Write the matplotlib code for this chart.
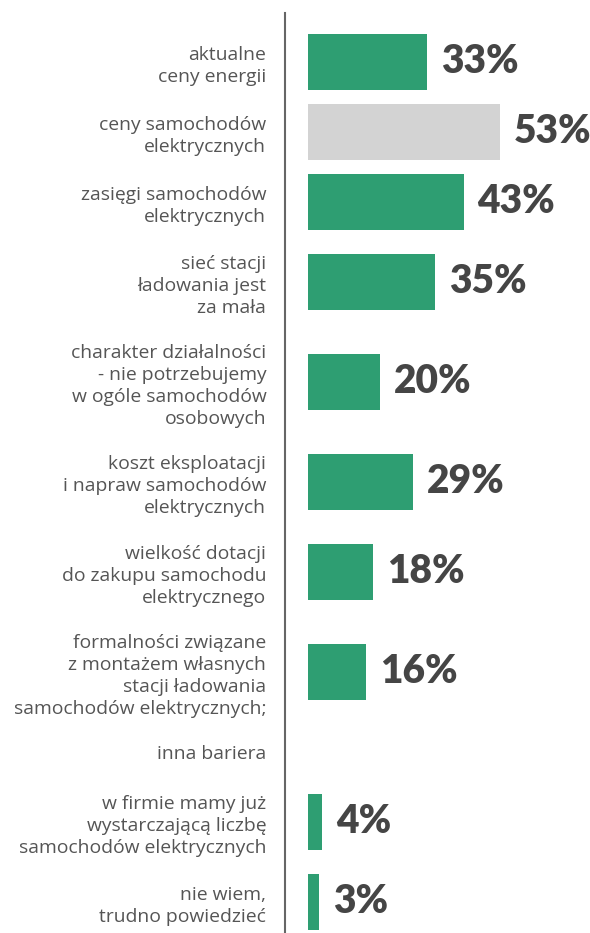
#!/usr/bin/env python3
"""
Barriers to buying electric cars - horizontal bar chart.
"""

import matplotlib.pyplot as plt

labels = [
    "aktualne\nceny energii",
    "ceny samochodów\nelektrycznych",
    "zasięgi samochodów\nelektrycznych",
    "sieć stacji\nładowania jest\nza mała",
    "charakter działalności\n- nie potrzebujemy\nw ogóle samochodów\nosobowych",
    "koszt eksploatacji\ni napraw samochodów\nelektrycznych",
    "wielkość dotacji\ndo zakupu samochodu\nelektrycznego",
    "formalności związane\nz montażem własnych\nstacji ładowania\nsamochodów elektrycznych;",
    "inna bariera",
    "w firmie mamy już\nwystarczającą liczbę\nsamochodów elektrycznych",
    "nie wiem,\ntrudno powiedzieć",
]
values = [33, 53, 43, 35, 20, 29, 18, 16, None, 4, 3]
highlight = [False, True, False, False, False, False, False, False, False, False, False]

GREEN = "#2e9e72"
GREY = "#d3d3d3"
TEXT = "#555555"
VALUE = "#454545"

W, H, DPI = 590, 933, 100


def row_centers(lbls, first=62.0):
    # rows with more label lines get more room
    n = [s.count("\n") + 1 for s in lbls]
    ys = [first]
    for a, b in zip(n[:-1], n[1:]):
        ys.append(ys[-1] + 30 + 10 * (a + b))
    return ys


def main() -> int:
    fig = plt.figure(figsize=(W / DPI, H / DPI), dpi=DPI)
    ax = fig.add_axes([285 / W, 0, 305 / W, 920 / H])

    px_per_pct = 3.62
    x0 = -23 / px_per_pct
    ax.set_xlim(x0, x0 + 305 / px_per_pct)
    ax.set_ylim(933, 13)

    ys = row_centers(labels)
    for y, v, hl in zip(ys, values, highlight):
        if v is None:
            continue
        ax.barh(y, v, height=56, color=GREY if hl else GREEN, left=0)
        ax.annotate(f"{v}%", (v, y), xytext=(10, 0), textcoords="offset points",
                    ha="left", va="center", fontsize=28, fontweight="heavy",
                    family=["Lato", "DejaVu Sans"], color=VALUE)

    ax.set_yticks(ys)
    ax.set_yticklabels(labels, fontsize=13.9, color=TEXT, linespacing=1.27,
                       family=["Open Sans", "DejaVu Sans"])
    ax.tick_params(axis="y", length=0, pad=13.5)
    ax.set_xticks([])

    for s in ("top", "right", "bottom"):
        ax.spines[s].set_visible(False)
    ax.spines["left"].set_color("#666666")
    ax.spines["left"].set_linewidth(1.5)

    fig.savefig("out.png", dpi=DPI)
    plt.close(fig)
    return 0


if __name__ == "__main__":
    raise SystemExit(main())
